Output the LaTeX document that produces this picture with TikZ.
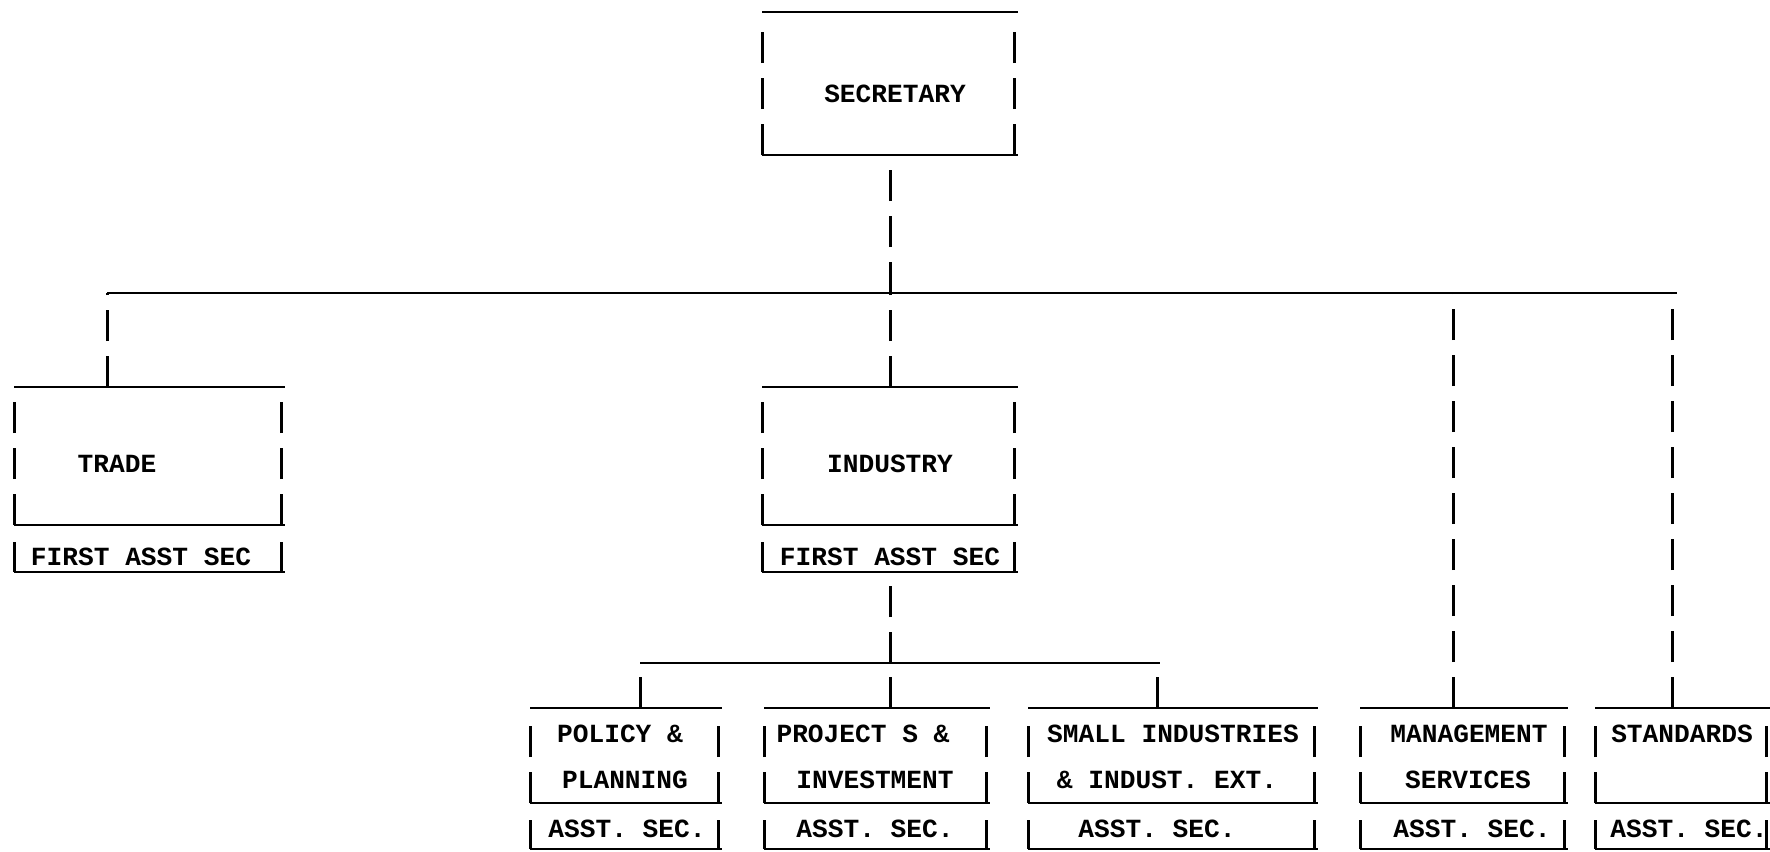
\documentclass[tikz,border=0pt]{standalone}
\usepackage{fontspec}
\setmonofont{Liberation Mono}
\usetikzlibrary{fit,calc}
\newcommand\tbox[6]{%
  \node[region, fit={(#2,#3) (#4,#5)}] (#1) {};
  \draw[hline] (#1.north west) -- (#1.north east);
  \draw[hline] (#1.south west) -- (#1.south east);
  \draw[vline] (#1.south west) -- ($(#1.north west)+(0,#6)$);
  \draw[vline] ($(#1.south east)+(-4,0)$) -- ($(#1.north east)+(-4,#6)$);
}
\begin{document}
\begin{tikzpicture}[x=0.5pt,y=-0.5pt,
  hline/.style={line width=1.35pt},
  vline/.style={line width=1.5pt, dash pattern=on 15.5pt off 7.5pt},
  lbl/.style={font=\ttfamily\bfseries\fontsize{13.1}{15}\selectfont, anchor=base, inner sep=0pt},
  region/.style={inner sep=0pt, outer sep=0pt, draw=none}]
\useasboundingbox (0,0) rectangle (1770,851);
\fill[white] (0,0) rectangle (1770,851);

% boxes
\tbox{sec}{762}{12}{1018}{155}{20}
\tbox{trade}{14}{387}{285}{525}{15}
\tbox{tradeA}{14}{525}{285}{572}{17}
\tbox{ind}{762}{387}{1018}{525}{15}
\tbox{indA}{762}{525}{1018}{572}{17}
\tbox{pol}{530}{708}{722}{803}{10}
\tbox{polA}{530}{803}{722}{849}{17}
\tbox{proj}{764}{708}{990}{803}{10}
\tbox{projA}{764}{803}{990}{849}{17}
\tbox{small}{1028}{708}{1318}{803}{10}
\tbox{smallA}{1028}{803}{1318}{849}{17}
\tbox{mgmt}{1360}{708}{1568}{803}{10}
\tbox{mgmtA}{1360}{803}{1568}{849}{17}
\tbox{std}{1595}{708}{1770}{803}{10}
\tbox{stdA}{1595}{803}{1770}{849}{17}

% labels
\node[lbl] (tSec) at (895,102) {SECRETARY};
\node[lbl] (tTrade) at (117,472) {TRADE};
\node[lbl] (tTradeA) at (141,565) {FIRST ASST SEC};
\node[lbl] (tInd) at (890,472) {INDUSTRY};
\node[lbl] (tIndA) at (890,565) {FIRST ASST SEC};
\node[lbl] (tPol1) at (620,742) {POLICY \&};
\node[lbl] (tPol2) at (625,788) {PLANNING};
\node[lbl] (tPolA) at (627,837) {ASST. SEC.};
\node[lbl] (tProj1) at (863,742) {PROJECT S \&};
\node[lbl] (tProj2) at (875,788) {INVESTMENT};
\node[lbl] (tProjA) at (875,837) {ASST. SEC.};
\node[lbl] (tSmall1) at (1173,742) {SMALL INDUSTRIES};
\node[lbl] (tSmall2) at (1167,788) {\& INDUST. EXT.};
\node[lbl] (tSmallA) at (1157,837) {ASST. SEC.};
\node[lbl] (tMg1) at (1469,742) {MANAGEMENT};
\node[lbl] (tMg2) at (1468,788) {SERVICES};
\node[lbl] (tMgA) at (1472,837) {ASST. SEC.};
\node[lbl] (tStd1) at (1682,742) {STANDARDS};
\node[lbl] (tStdA) at (1689,837) {ASST. SEC.};

% main bar and connectors
\coordinate (barL) at (107,293);
\coordinate (barR) at (1677,293);
\draw[hline] (barL) -- (barR);
\draw[vline] (sec.south |- barL) -- (sec.south);
\draw[vline] (barL |- trade.north) -- (barL);
\draw[vline] (ind.north) -- (ind.north |- barL);
\coordinate (mgDrop) at (1453,708);
\coordinate (stdDrop) at (1672,708);
\draw[vline] (mgDrop) -- (mgDrop |- barL);
\draw[vline] (stdDrop) -- (stdDrop |- barL);

% sub bar
\coordinate (subL) at (640,663);
\coordinate (subR) at (1160,663);
\draw[hline] (subL) -- (subR);
\draw[vline] (indA.south |- subL) -- (indA.south);
\draw[vline] (subL |- pol.north) -- (subL);
\draw[vline] (indA.south |- proj.north) -- (indA.south |- subL);
\coordinate (smDrop) at (1157,708);
\draw[vline] (smDrop) -- (smDrop |- subL);
\end{tikzpicture}
\end{document}
